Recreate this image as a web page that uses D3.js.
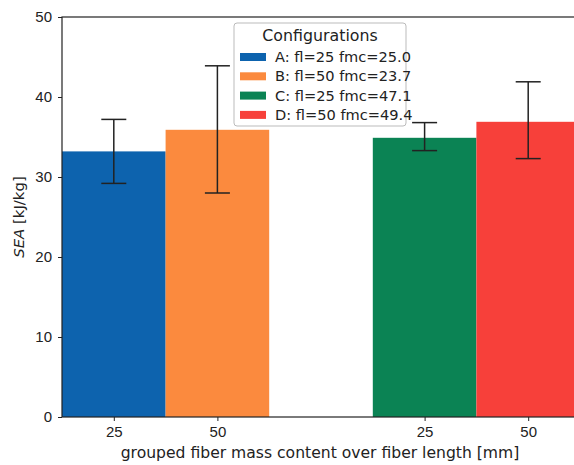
<!DOCTYPE html>
<html>
<head>
<meta charset="utf-8">
<script src="https://cdn.jsdelivr.net/npm/d3@7.9.0/dist/d3.min.js"></script>
<style>
  body { margin: 0; background: #fff; }
  svg { display: block; font-family: "DejaVu Sans", sans-serif; }
</style>
</head>
<body>
<svg id="chart" width="574" height="465"></svg>
<script>
// data
const configs = ['A', 'B', 'C', 'D'];
const legendLabels = ['A: fl=25 fmc=25.0', 'B: fl=50 fmc=23.7', 'C: fl=25 fmc=47.1', 'D: fl=50 fmc=49.4'];
const groupIndex = [0, 0, 1, 1];
const fiberLength = ['25', '50', '25', '50'];
const seaMean = [33.2, 35.9, 34.9, 36.9];
const seaLow = [29.2, 28.0, 33.3, 32.3];
const seaHigh = [37.2, 43.9, 36.8, 41.9];
const yTicks = [0, 10, 20, 30, 40, 50];
const colors = ['#0d63ae', '#fb8a3e', '#0b8354', '#f7403a'];

const barW = 1 / 3;
const offsets = [-1 / 6, 1 / 6, -1 / 6, 1 / 6];

const svg = d3.select('#chart');
const mLeft = 62, mTop = 17, mBottom = 417, mRight = 580;

const x = d3.scaleLinear().domain([-1 / 3, 1 + 1 / 3]).range([mLeft, mRight]);
const y = d3.scaleLinear().domain([0, 50]).range([mBottom, mTop]);

const rows = configs.map((c, i) => ({
  c, pos: groupIndex[i] + offsets[i], mean: seaMean[i], lo: seaLow[i], hi: seaHigh[i], color: colors[i]
}));

// bars
svg.append('g').selectAll('rect').data(rows).join('rect')
  .attr('x', d => x(d.pos - barW / 2))
  .attr('width', d => x(d.pos + barW / 2) - x(d.pos - barW / 2))
  .attr('y', d => y(d.mean))
  .attr('height', d => y(0) - y(d.mean))
  .attr('fill', d => d.color);

// error bars
const err = svg.append('g').attr('stroke', '#222').attr('stroke-width', 1.5);
rows.forEach(d => {
  const cx = x(d.pos);
  err.append('line').attr('x1', cx).attr('x2', cx).attr('y1', y(d.lo)).attr('y2', y(d.hi));
  err.append('line').attr('x1', cx - 12.5).attr('x2', cx + 12.5).attr('y1', y(d.lo)).attr('y2', y(d.lo));
  err.append('line').attr('x1', cx - 12.5).attr('x2', cx + 12.5).attr('y1', y(d.hi)).attr('y2', y(d.hi));
});

// y axis
const yAxis = svg.append('g')
  .attr('transform', `translate(${mLeft},0)`)
  .call(d3.axisLeft(y).tickValues(yTicks).tickSize(4).tickPadding(6));
yAxis.select('.domain').remove();
yAxis.selectAll('text').attr('font-size', 15).attr('fill', '#222');
yAxis.selectAll('line').attr('stroke', '#222');

// x axis ticks at bar centres
const xAxis = svg.append('g')
  .attr('transform', `translate(0,${mBottom})`)
  .call(d3.axisBottom(x).tickValues(rows.map(d => d.pos))
    .tickFormat((d, i) => fiberLength[i]).tickSize(4).tickPadding(5));
xAxis.select('.domain').remove();
xAxis.selectAll('text').attr('font-size', 15).attr('fill', '#222');
xAxis.selectAll('line').attr('stroke', '#222');

// spines
svg.append('rect')
  .attr('x', mLeft).attr('y', mTop).attr('width', mRight - mLeft).attr('height', mBottom - mTop)
  .attr('fill', 'none').attr('stroke', '#222').attr('stroke-width', 1.2);

// axis labels
svg.append('text')
  .attr('x', 320).attr('y', 458)
  .attr('text-anchor', 'middle').attr('font-size', 15.6).attr('fill', '#222')
  .text('grouped fiber mass content over fiber length [mm]');

const yl = svg.append('text')
  .attr('transform', `translate(24,${(mTop + mBottom) / 2}) rotate(-90)`)
  .attr('text-anchor', 'middle').attr('font-size', 14.9).attr('fill', '#222');
yl.append('tspan').attr('font-style', 'italic').text('SEA');
yl.append('tspan').text(' [kJ/kg]');

// legend
const lg = svg.append('g').attr('transform', 'translate(234,23)');
lg.append('rect').attr('width', 172).attr('height', 103).attr('rx', 3)
  .attr('fill', '#fff').attr('fill-opacity', 0.9).attr('stroke', '#bbb');
lg.append('text').attr('x', 86).attr('y', 18).attr('text-anchor', 'middle')
  .attr('font-size', 15.8).attr('fill', '#222').text('Configurations');
legendLabels.forEach((t, i) => {
  const yy = 34 + i * 19.3;
  lg.append('rect').attr('x', 6).attr('y', yy - 4).attr('width', 26).attr('height', 8).attr('fill', colors[i]);
  lg.append('text').attr('x', 41).attr('y', yy + 5).attr('font-size', 14.6).attr('fill', '#222').text(t);
});
</script>
</body>
</html>
